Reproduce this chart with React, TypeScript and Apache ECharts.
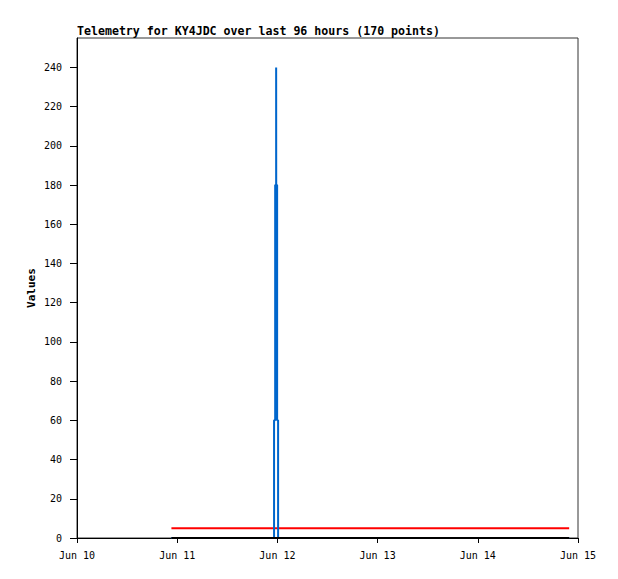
import React, { useEffect, useRef } from "react";
import * as echarts from "echarts";

const T0 = Date.UTC(2024, 5, 10);
const H = 3600000;
const DAY = 24 * H;
const t = (day: number, hh: number, mm: number) => Date.UTC(2024, 5, day, hh, mm);

const xTickLabels = ["Jun 10", "Jun 11", "Jun 12", "Jun 13", "Jun 14", "Jun 15"];
const yTicks = [0, 20, 40, 60, 80, 100, 120, 140, 160, 180, 200, 220, 240];

const blueTimes = [
  t(10, 22, 37), t(11, 23, 12), t(11, 23, 12), t(11, 23, 28), t(11, 23, 28), t(11, 23, 42),
  t(11, 23, 42), t(11, 23, 43), t(11, 23, 56), t(11, 23, 56), t(12, 0, 10), t(12, 0, 10), t(14, 21, 53),
];
const blueValues = [0, 0, 60, 60, 180, 180, 240, 180, 180, 60, 60, 0, 0];
const redTimes = [t(10, 22, 37), t(14, 21, 53)];
const redValues = [5, 5];
const blackTimes = [t(10, 22, 37), t(14, 21, 53)];
const blackValues = [0, 0];

const FONT = "DejaVu Sans Mono";

export default function App() {
  const ref = useRef<HTMLDivElement>(null);
  useEffect(() => {
    document.body.style.margin = "0";
    const chart = echarts.init(ref.current!, null, { renderer: "svg" });
    const pair = (ts: number[], vs: number[]) => ts.map((x, i) => [x, vs[i]]);
    chart.setOption({
      animation: false,
      backgroundColor: "#fff",
      title: {
        text: "Telemetry for KY4JDC over last 96 hours (170 points)",
        left: 77,
        top: 25,
        padding: 0,
        textStyle: { fontFamily: FONT, fontSize: 11.6, fontWeight: "bold", color: "#000" },
      },
      grid: { left: 77, top: 38, right: 40, bottom: 41, show: true, borderColor: "#333", borderWidth: 1, backgroundColor: "transparent" },
      xAxis: {
        type: "value",
        min: T0,
        max: T0 + 5 * DAY,
        interval: DAY,
        splitLine: { show: false },
        axisLine: { lineStyle: { color: "#000", width: 1 } },
        axisTick: { show: true, length: 5, lineStyle: { color: "#000" } },
        axisLabel: {
          fontFamily: FONT,
          fontSize: 10,
          color: "#000",
          margin: 12,
          formatter: (v: number) => xTickLabels[Math.round((v - T0) / DAY)] ?? "",
        },
      },
      yAxis: {
        type: "value",
        min: 0,
        max: 255,
        interval: 20,
        name: "Values",
        nameLocation: "middle",
        nameGap: 40,
        nameMoveOverlap: false,
        nameTextStyle: { fontFamily: FONT, fontSize: 11, fontWeight: "bold", color: "#000" },
        splitLine: { show: false },
        axisLine: { show: true, lineStyle: { color: "#000", width: 1 } },
        axisTick: { show: true, length: 7, customValues: yTicks, lineStyle: { color: "#000" } },
        axisLabel: { fontFamily: FONT, fontSize: 10, color: "#000", margin: 15, customValues: yTicks },
      },
      series: [
        { type: "line", data: pair(redTimes, redValues), symbol: "none", lineStyle: { color: "#ff0000", width: 2 }, z: 2 },
        { type: "line", data: pair(blueTimes, blueValues), symbol: "none", lineStyle: { color: "#0066cc", width: 2 }, z: 3 },
        { type: "line", data: pair(blackTimes, blackValues), symbol: "none", lineStyle: { color: "#000", width: 2 }, z: 4 },
      ],
    });
    return () => chart.dispose();
  }, []);
  return <div ref={ref} style={{ width: 618, height: 579 }} />;
}
